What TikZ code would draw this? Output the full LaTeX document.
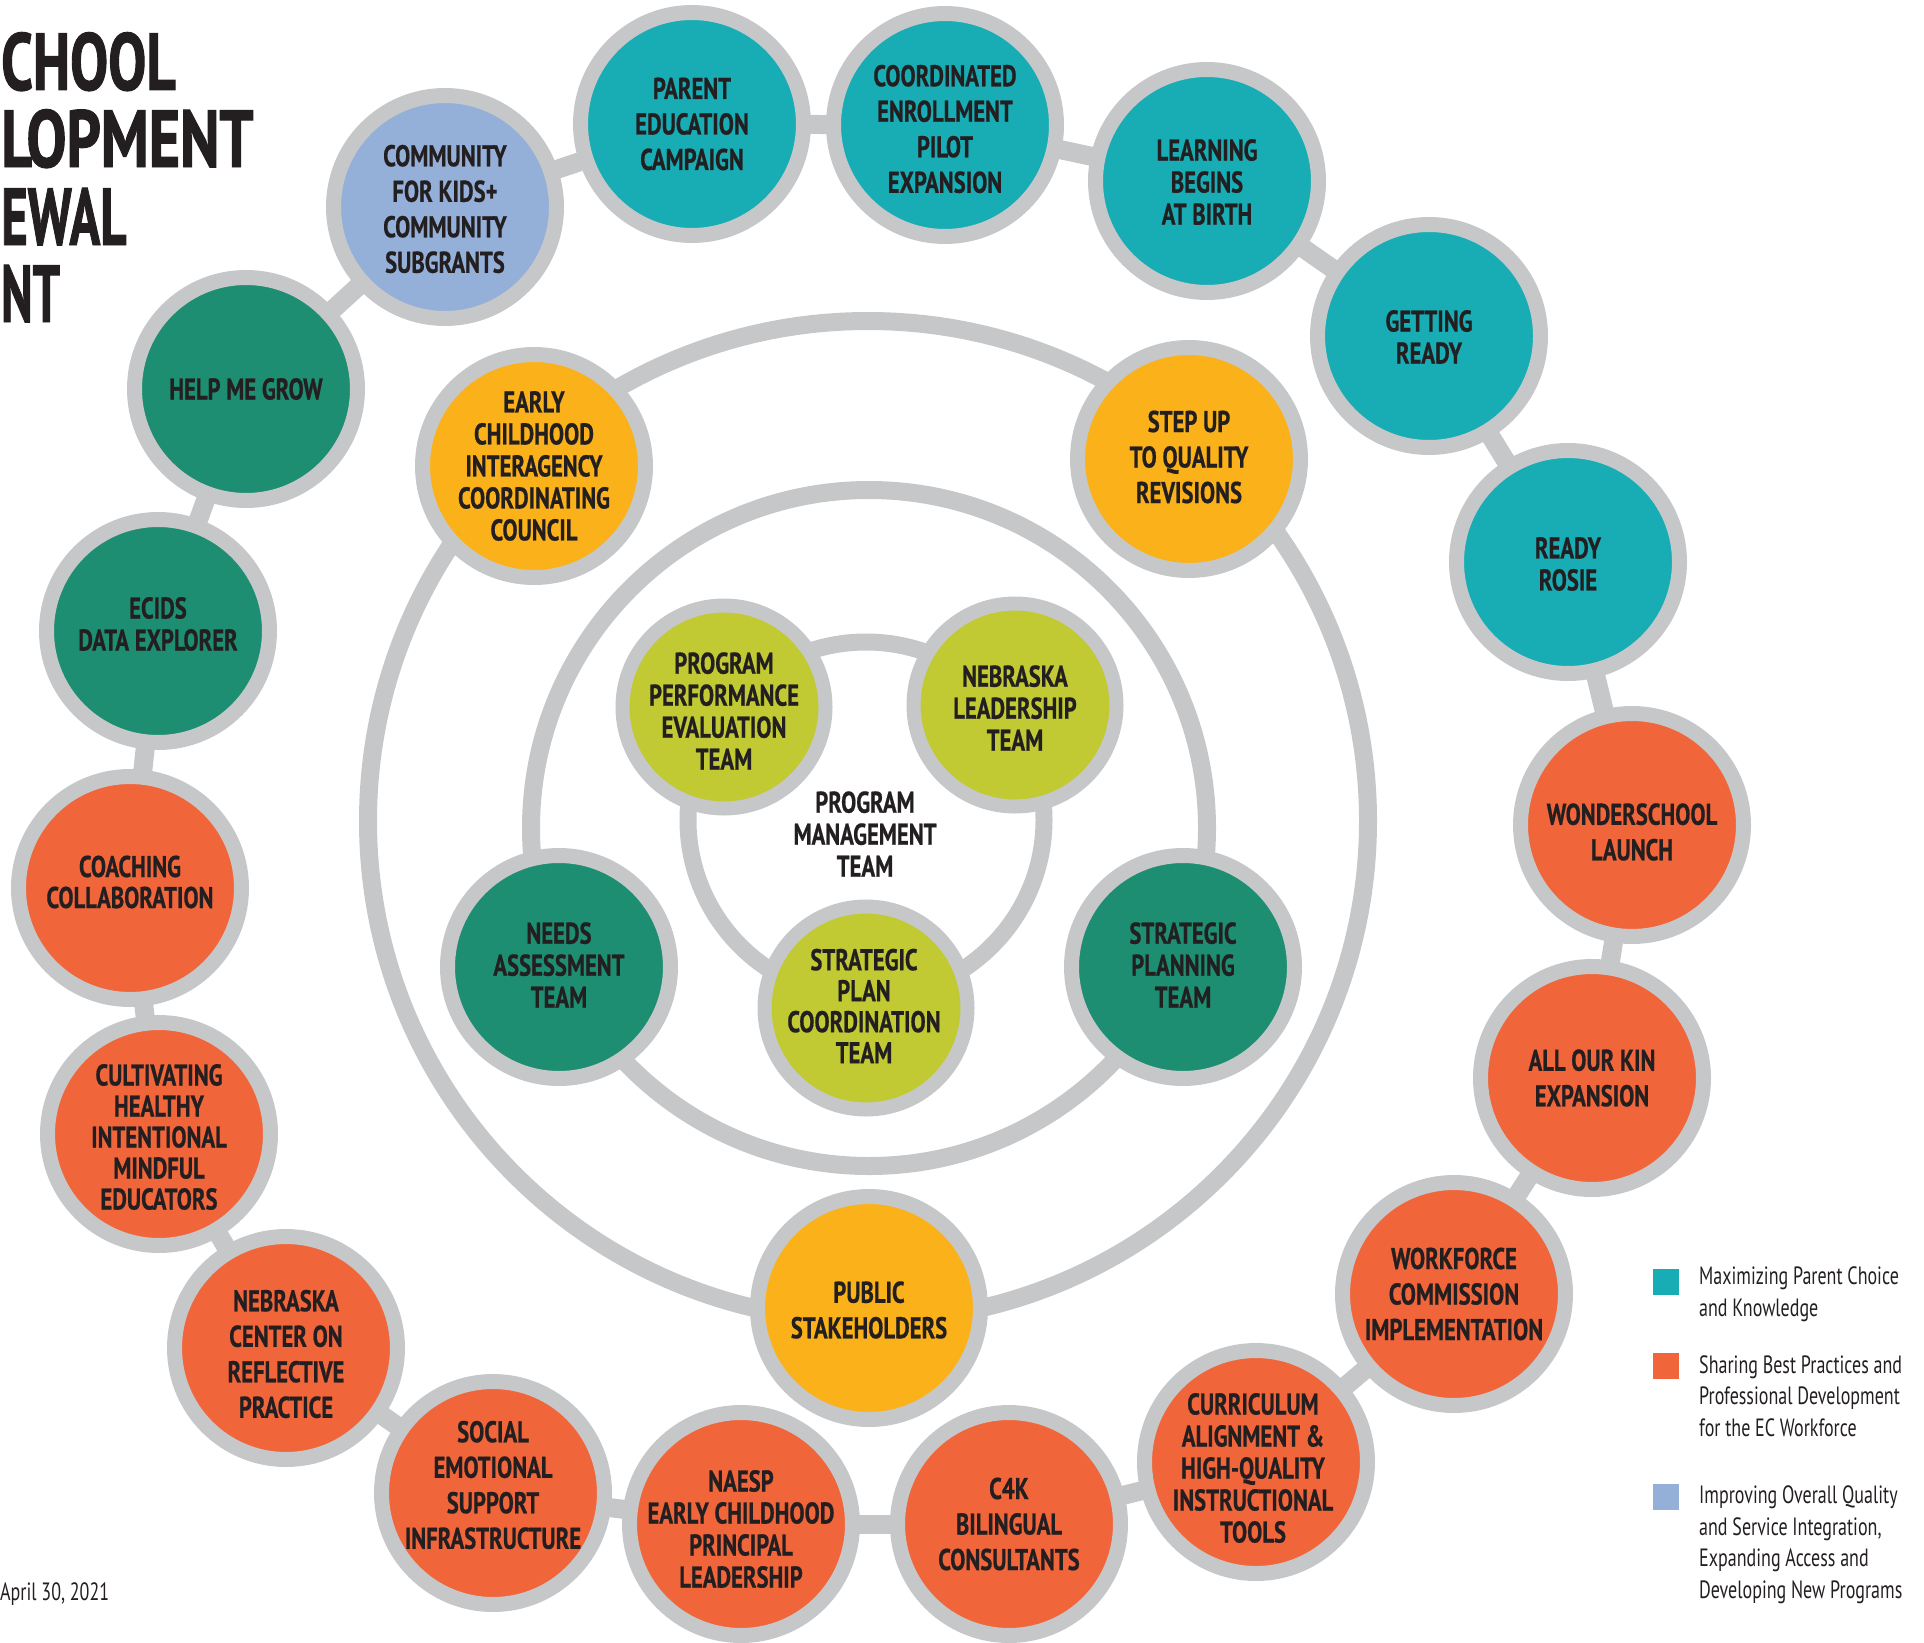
\documentclass[tikz,border=0pt]{standalone}
\usepackage{graphicx}
\usepackage{fontspec}
\setmainfont{PT Sans}[FakeStretch=0.72]
\newfontfamily\nodef{PT Sans}[FakeStretch=0.755, BoldFeatures={FakeBold=0.6}]
\newfontfamily\titlef{PT Sans}[FakeStretch=0.74, BoldFeatures={FakeBold=1.2}]
\usetikzlibrary{backgrounds,calc}
\definecolor{tealc}{HTML}{18ADB5}
\definecolor{orangec}{HTML}{F1653B}
\definecolor{bluec}{HTML}{94B0D8}
\definecolor{greenc}{HTML}{1D8E71}
\definecolor{yellowc}{HTML}{FBB21A}
\definecolor{limec}{HTML}{C1CA32}
\definecolor{ringc}{HTML}{C6C7C9}
\definecolor{inkc}{HTML}{231F20}
\tikzset{
  bub/.style={circle, draw=ringc, line width=15pt, minimum size=223pt, inner sep=0pt},
  limebub/.style={circle, draw=ringc, line width=14pt, minimum size=203pt, inner sep=0pt, fill=limec},
  lbl/.style={align=center, text=inkc, inner sep=0pt, font=\nodef\bfseries\fontsize{30}{35.5}\selectfont},
  lblt/.style={lbl, font=\nodef\bfseries\fontsize{30}{32}\selectfont},
  lbls/.style={lbl, font=\nodef\bfseries\fontsize{30}{31}\selectfont},
  link/.style={draw=ringc, line width=19pt},
  ringline/.style={draw=ringc, line width=18pt},
  sq/.style={minimum size=26pt, inner sep=0pt},
  leg/.style={align=left, text=inkc, inner sep=0pt, anchor=base west, font=\fontsize{25}{31.5}\selectfont},
  ttl/.style={text=inkc, inner sep=0pt, anchor=base west, font=\titlef\bfseries\fontsize{81}{85}\selectfont},
}
\newcommand\mybub[6]{%
  \node[bub, fill=#2] (#1) at (#3) {};
  \node[#4] (#1-t) at ($(#1.center)+(#5)$) {#6};}
\begin{document}
\begin{tikzpicture}[x=1pt,y=-1pt]
\useasboundingbox (0,0) rectangle (1924,1643);
% centre of the rings
\coordinate (ctr) at (868,821);
% outer chain
\mybub{com}{bluec}{445,207}{lbl}{0,2}{COMMUNITY\\FOR KIDS+\\COMMUNITY\\SUBGRANTS}
\mybub{par}{tealc}{692,124}{lbl}{0,0}{PARENT\\EDUCATION\\CAMPAIGN}
\mybub{coo}{tealc}{945,125}{lbl}{0,4}{COORDINATED\\ENROLLMENT\\PILOT\\EXPANSION}
\mybub{lea}{tealc}{1207,181}{lblt}{0,1}{LEARNING\\BEGINS\\AT BIRTH}
\mybub{get}{tealc}{1429,336}{lblt}{0,1}{GETTING\\READY}
\mybub{ros}{tealc}{1568,562}{lblt}{0,2}{READY\\ROSIE}
\mybub{won}{orangec}{1632,825}{lbl}{0,7}{WONDERSCHOOL\\LAUNCH}
\mybub{kin}{orangec}{1592,1078}{lbl}{0,0}{ALL OUR KIN\\EXPANSION}
\mybub{wor}{orangec}{1454,1294}{lbl}{0,0}{WORKFORCE\\COMMISSION\\IMPLEMENTATION}
\mybub{cur}{orangec}{1256,1462}{lblt}{-3,6}{CURRICULUM\\ALIGNMENT \&\\HIGH-QUALITY\\INSTRUCTIONAL\\TOOLS}
\mybub{cfk}{orangec}{1009,1524}{lbl}{0,0}{C4K\\BILINGUAL\\CONSULTANTS}
\mybub{nae}{orangec}{741,1524}{lblt}{0,5}{NAESP\\EARLY CHILDHOOD\\PRINCIPAL\\LEADERSHIP}
\mybub{soc}{orangec}{493,1493}{lbl}{0,-8}{SOCIAL\\EMOTIONAL\\SUPPORT\\INFRASTRUCTURE}
\mybub{nec}{orangec}{286,1348}{lbl}{0,6}{NEBRASKA\\CENTER ON\\REFLECTIVE\\PRACTICE}
\mybub{cul}{orangec}{159,1134}{lbls}{0,3}{CULTIVATING\\HEALTHY\\INTENTIONAL\\MINDFUL\\EDUCATORS}
\mybub{coa}{orangec}{130,888}{lbls}{0,-6}{COACHING\\COLLABORATION}
\mybub{eci}{greenc}{158,631}{lblt}{0,-7}{ECIDS\\DATA EXPLORER}
\mybub{hmg}{greenc}{246,389}{lbl}{0,0}{HELP ME GROW}
% middle ring
\mybub{ecc}{yellowc}{534,466}{lblt}{0,0}{EARLY\\CHILDHOOD\\INTERAGENCY\\COORDINATING\\COUNCIL}
\mybub{stq}{yellowc}{1189,459}{lbl}{0,-2}{STEP UP\\TO QUALITY\\REVISIONS}
\mybub{pub}{yellowc}{869,1308}{lbl}{0,2}{PUBLIC\\STAKEHOLDERS}
% inner ring
\mybub{nat}{greenc}{559,967}{lblt}{0,-2}{NEEDS\\ASSESSMENT\\TEAM}
\mybub{spt}{greenc}{1183,967}{lblt}{0,-2}{STRATEGIC\\PLANNING\\TEAM}
% innermost ring
\node[limebub] (ppe) at (724,707) {};
\node[lblt] (ppe-t) at ($(ppe.center)+(0,4)$) {PROGRAM\\PERFORMANCE\\EVALUATION\\TEAM};
\node[limebub] (nlt) at (1015,705) {};
\node[lblt] (nlt-t) at ($(nlt.center)+(0,3)$) {NEBRASKA\\LEADERSHIP\\TEAM};
\node[limebub] (spc) at (866,1008) {};
\node[lbls] (spc-t) at ($(spc.center)+(-2,-2)$) {STRATEGIC\\PLAN\\COORDINATION\\TEAM};
\node[lblt] (pmt) at (865,834) {PROGRAM\\MANAGEMENT\\TEAM};
% rings and links behind
\begin{scope}[on background layer]
  \draw[ringline] (ctr) circle[radius=500];
  \draw[ringline] (869,828) circle[radius=338];
  \draw[ringline, line width=17pt] (866,820) circle[radius=178];
  \foreach \a/\b in {com/par,par/coo,coo/lea,lea/get,get/ros,ros/won,won/kin,kin/wor,wor/cur,cur/cfk,cfk/nae,nae/soc,soc/nec,nec/cul,cul/coa,coa/eci,eci/hmg,hmg/com}
    \draw[link] (\a.center) -- (\b.center);
\end{scope}
% title
\node[ttl] (t1) at (1,90) {\scalebox{0.95}[1]{CHOOL}};
\node[ttl] (t2) at (1,167) {LOPMENT};
\node[ttl] (t3) at (1,245) {\scalebox{0.85}[1]{EWAL}};
\node[ttl] (t4) at (1,322) {\scalebox{0.8}[1]{NT}};
% date
\node[leg] (date) at (0,1600) {April 30, 2021};
% legend
\node[sq, fill=tealc] (lg1) at (1666,1282) {};
\node[leg] (lg1-t) at (1699,1316) {Maximizing Parent Choice\\and Knowledge};
\node[sq, fill=orangec] (lg2) at (1666,1366) {};
\node[leg] (lg2-t) at (1699,1436) {Sharing Best Practices and\\Professional Development\\for the EC Workforce};
\node[sq, fill=bluec] (lg3) at (1666,1497) {};
\node[leg] (lg3-t) at (1699,1598) {Improving Overall Quality\\and Service Integration,\\Expanding Access and\\Developing New Programs};
\end{tikzpicture}
\end{document}
